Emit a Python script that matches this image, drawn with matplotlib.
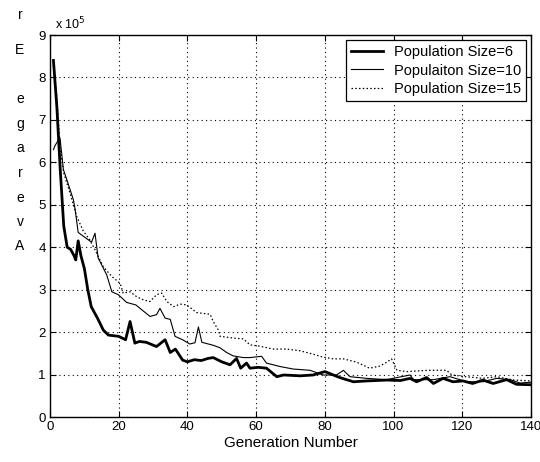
import matplotlib
matplotlib.use("Agg")
import matplotlib.pyplot as plt

plt.rcParams['font.family'] = ['Liberation Sans', 'DejaVu Sans']

SCALE_EXP = 5  # values are in units of 10^5

gen_p6 = [1, 2, 3, 4, 5, 6, 7, 7.5, 8.2, 9,
          10, 11, 12, 13, 14, 15.5, 17, 20, 22, 23.3,
          24.7, 26, 28, 31, 33.5, 35, 36.5, 38.6, 40, 42,
          44, 46, 47.5, 50, 52.4, 54.3, 55.5, 57.2, 58.2, 60.6,
          63, 66, 68, 72.8, 76.6, 80, 84.3, 88.3, 92.2, 98,
          102, 104.8, 106.7, 109.6, 111.6, 114.4, 117.3, 120.2, 123, 126,
          129, 132.9, 135.8, 140]
err_p6 = [8.4, 7.3, 5.8, 4.5, 4.0, 3.95, 3.8, 3.7, 4.15, 3.8,
          3.5, 3.0, 2.6, 2.45, 2.3, 2.05, 1.93, 1.9, 1.82, 2.25,
          1.74, 1.78, 1.76, 1.66, 1.82, 1.52, 1.6, 1.34, 1.3, 1.35,
          1.33, 1.38, 1.40, 1.3, 1.23, 1.38, 1.15, 1.27, 1.15, 1.17,
          1.15, 0.95, 0.99, 0.97, 0.99, 1.07, 0.93, 0.83, 0.85, 0.87,
          0.86, 0.91, 0.83, 0.93, 0.79, 0.91, 0.83, 0.85, 0.79, 0.87,
          0.79, 0.88, 0.77, 0.76]

gen_p10 = [1, 1.5, 2.9, 3.9, 4.9, 6.8, 7.3, 8.2, 9, 10.7,
           12.1, 13.1, 14, 16.5, 18, 19.9, 22.3, 25, 26.2, 29.1,
           31, 32, 33.5, 35, 36.4, 38.6, 40.7, 42.2, 43.2, 44.2,
           47.5, 49.5, 51.4, 53.3, 56.3, 58.2, 61.6, 63, 66.9, 70.8,
           75.7, 79.5, 83.4, 85.4, 87.3, 92.2, 98, 104.8, 105.8, 111.6,
           116.4, 121.3, 126, 130, 134, 136.8, 140]
err_p10 = [6.3, 6.4, 6.58, 5.83, 5.59, 5.12, 4.9, 4.35, 4.3, 4.2,
           4.12, 4.33, 3.75, 3.35, 2.95, 2.88, 2.7, 2.64, 2.56, 2.37,
           2.41, 2.56, 2.33, 2.3, 1.9, 1.82, 1.72, 1.75, 2.12, 1.76,
           1.69, 1.63, 1.52, 1.44, 1.40, 1.40, 1.43, 1.27, 1.19, 1.13,
           1.10, 0.99, 0.99, 1.10, 0.95, 0.91, 0.88, 0.99, 0.88, 0.88,
           0.95, 0.83, 0.83, 0.91, 0.88, 0.80, 0.82]

gen_p15 = [1, 2, 3, 4, 5.8, 7.8, 9.7, 11.6, 13.1, 15.5,
           18, 20.4, 21.3, 23.3, 25.3, 27.2, 29.1, 31, 32.5, 34,
           36, 37.9, 39.8, 42.7, 44.6, 46.6, 47.5, 49, 49.5, 53.4,
           56.3, 58.2, 61, 65, 68.9, 72.8, 76.6, 79.5, 82.5, 85.4,
           89.3, 93, 96, 98, 99.4, 101, 104, 110, 115.4, 117,
           121, 126, 130, 135, 140]
err_p15 = [8.3, 7.5, 6.3, 5.75, 5.28, 4.72, 4.38, 4.17, 3.94, 3.54,
           3.31, 3.15, 2.92, 2.95, 2.83, 2.76, 2.72, 2.88, 2.92, 2.72,
           2.6, 2.66, 2.64, 2.46, 2.44, 2.42, 2.25, 2.05, 1.9, 1.86,
           1.84, 1.70, 1.67, 1.6, 1.6, 1.56, 1.48, 1.41, 1.37, 1.37,
           1.29, 1.15, 1.2, 1.29, 1.37, 1.1, 1.07, 1.1, 1.1, 0.99,
           0.95, 0.91, 0.95, 0.87, 0.85]

labels = ['Population Size=6', 'Populaiton Size=10', 'Population Size=15']
x_ticks = [0, 20, 40, 60, 80, 100, 120, 140]
y_ticks = [0, 1, 2, 3, 4, 5, 6, 7, 8, 9]
ylabel_letters = ['r', 'E', 'e', 'g', 'a', 'r', 'e', 'v', 'A']
ylabel_ypix = [15, 50, 99, 124, 148, 173, 198, 222, 246]

fig = plt.figure(figsize=(5.4, 4.62), dpi=100)
ax = fig.add_axes([50 / 540, 1 - 417 / 462, 481 / 540, 382 / 462])

ax.plot(gen_p6, err_p6, color='black', lw=2.0, label=labels[0])
ax.plot(gen_p10, err_p10, color='black', lw=0.8, label=labels[1])
ax.plot(gen_p15, err_p15, color='black', lw=0.9, linestyle=(0, (1.2, 1.8)), label=labels[2])

ax.set_xlim(0, 140)
ax.set_ylim(0, 9)
ax.set_xticks(x_ticks)
ax.set_yticks(y_ticks)
ax.tick_params(direction='in', top=True, right=True, labelsize=9.5, length=4, width=0.8, pad=3)
ax.grid(True, color='black', linestyle=(0, (1, 3)), linewidth=0.8)
for s in ax.spines.values():
    s.set_linewidth(1.0)

ax.set_xlabel('Generation Number', fontsize=11, labelpad=2)

ax.text(0.01, 1.008, r'x 10$^{%d}$' % SCALE_EXP, transform=ax.transAxes, fontsize=9,
        ha='left', va='bottom')

for ch, yp in zip(ylabel_letters, ylabel_ypix):
    fig.text(20 / 540, 1 - yp / 462, ch, fontsize=10, ha='center', va='center')

leg = ax.legend(loc='upper right', fontsize=10.5, frameon=True, fancybox=False,
                edgecolor='black', framealpha=1, borderpad=0.35, labelspacing=0.3,
                handlelength=2.2, handletextpad=0.7, borderaxespad=0.35)
leg.get_frame().set_linewidth(0.9)

fig.savefig('out.png', dpi=100)
